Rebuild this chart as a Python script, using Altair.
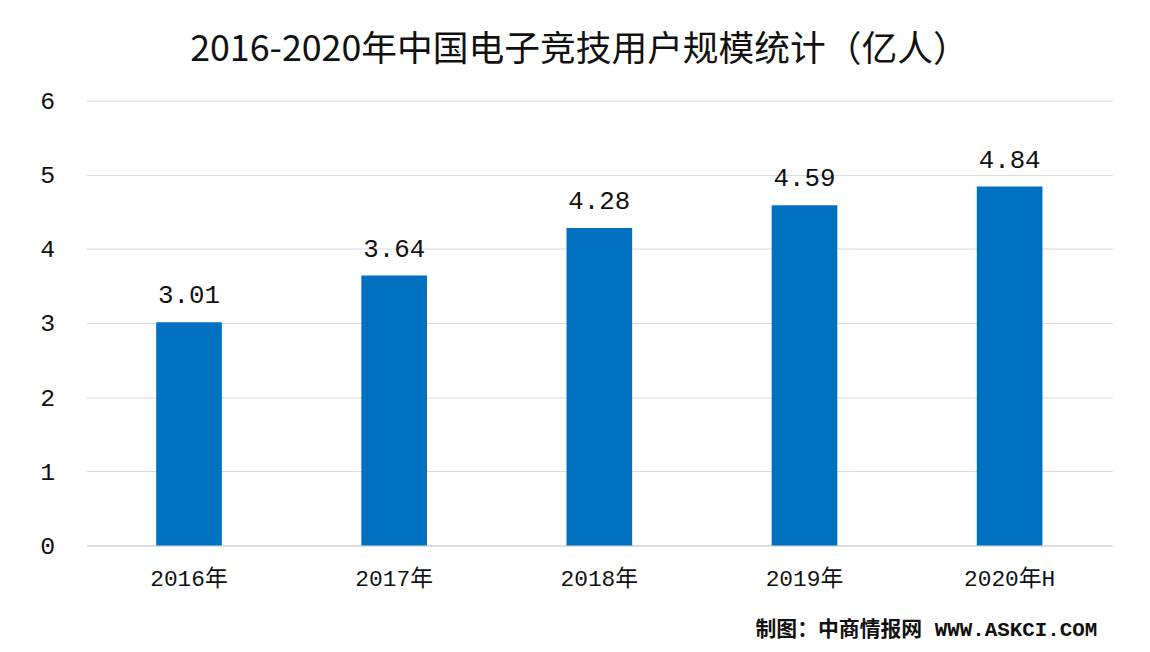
import altair as alt
import pandas as pd

years = ["2016年", "2017年", "2018年", "2019年", "2020年H"]
users = [3.01, 3.64, 4.28, 4.59, 4.84]
labels = ["3.01", "3.64", "4.28", "4.59", "4.84"]
yticks = [0, 1, 2, 3, 4, 5, 6]

df = pd.DataFrame({"year": years, "users": users, "label": labels})

MONO = "Liberation Mono, Noto Sans CJK SC"

base = alt.Chart(df).encode(
    x=alt.X("year:N", sort=years, title=None,
            scale=alt.Scale(paddingInner=0.68, paddingOuter=0.34),
            axis=alt.Axis(labelAngle=0, labelFont=MONO, labelFontSize=23,
                          labelColor="#111111", labelPadding=22,
                          domain=True, domainColor="#d0d0d0", ticks=False)),
    y=alt.Y("users:Q", title=None,
            scale=alt.Scale(domain=[0, 6], nice=False),
            axis=alt.Axis(values=yticks, labelFont=MONO, labelFontSize=25,
                          labelColor="#111111", labelPadding=32, domain=False,
                          ticks=False, gridColor="#d9d9d9", gridWidth=1)),
)

bars = base.mark_bar(color="#0070C0")

text = base.mark_text(baseline="bottom", dy=-14, font=MONO, fontSize=26,
                      color="#111111").encode(text="label:N")

footer = alt.Chart(pd.DataFrame({"t": ["制图：中商情报网 WWW.ASKCI.COM"]})).mark_text(
    align="right", baseline="middle", font=MONO, fontSize=21, fontWeight="bold",
    color="#111111"
).encode(x=alt.value(1018), y=alt.value(533), text="t:N")

chart = alt.layer(bars, text, footer).properties(
    width=1033, height=448,
    title=alt.TitleParams("2016-2020年中国电子竞技用户规模统计（亿人）",
                          font="Noto Sans CJK SC", fontSize=36,
                          fontWeight="normal", color="#111111",
                          anchor="middle", offset=20, dx=-20),
    autosize=alt.AutoSizeParams(type="none"),
    padding={"left": 79, "top": 91, "right": 30, "bottom": 95},
).configure(background="white").configure_view(stroke=None)

chart.save("out.html", embed_options={"renderer": "svg", "actions": False})
